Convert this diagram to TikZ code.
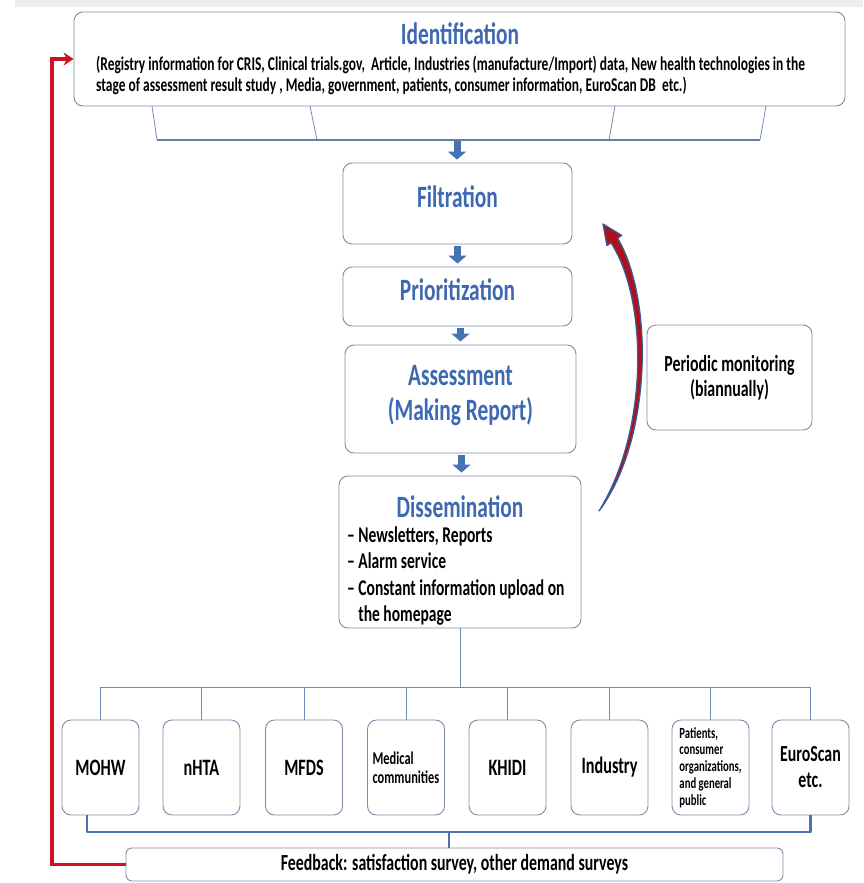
\documentclass[tikz,border=0pt]{standalone}
\usepackage{fontspec}
\setmainfont{Carlito}[FakeStretch=0.69]
\usetikzlibrary{arrows.meta,calc}
\definecolor{boxline}{RGB}{125,140,165}
\definecolor{ttl}{RGB}{62,104,178}
\definecolor{conn}{RGB}{110,140,180}
\definecolor{barblue}{RGB}{75,115,175}
\definecolor{fbred}{RGB}{205,20,30}
\definecolor{arrblue}{RGB}{70,115,180}
\definecolor{curvblue}{RGB}{60,90,150}
\tikzset{
  box/.style={draw=boxline, line width=0.9pt, rounded corners=9pt, fill=white, inner sep=0pt},
  smallbox/.style={box, minimum width=77pt, minimum height=95pt, align=center},
  ttlfont/.style={text=ttl, font=\bfseries\fontsize{31}{33}\selectfont, inner sep=0pt},
  blockarrow/.style={arrblue, line width=7pt, -{Triangle[length=8pt,width=18pt]}, shorten <=2pt, shorten >=3pt},
  thinconn/.style={conn, line width=0.8pt},
  barconn/.style={barblue, line width=2.6pt, line join=round},
  fbline/.style={fbred, line width=3.2pt},
}
\begin{document}
\begin{tikzpicture}[x=1pt,y=-1pt]
\useasboundingbox (0,0) rectangle (863,883);
\fill[gray!13] (15,0) rectangle (863,7);

% identification
\node[box, minimum width=771pt, minimum height=94pt] (ident) at (459.5,59) {};
\node[ttlfont] (identt) at (460,34) {Identification};
\node[anchor=west, align=left, inner sep=0pt, font=\bfseries\fontsize{19.5}{21.5}\selectfont] (identb) at (96,75.5)
 {(Registry information for CRIS, Clinical trials.gov,~ Article, Industries (manufacture/Import) data, New health technologies in the\\
  stage of assessment result study , Media, government, patients, consumer information, EuroScan DB~ etc.)};

% bracket under identification
\coordinate (b1) at (152,106); \coordinate (b1e) at (157,140);
\coordinate (b2) at (310,106); \coordinate (b2e) at (317,140);
\coordinate (b3) at (615,106); \coordinate (b3e) at (609,140);
\coordinate (b4) at (766,106); \coordinate (b4e) at (760,140);
\coordinate (bm) at (457,140);
\draw[thinconn] (b1) -- (b1e) (b2) -- (b2e) (b3) -- (b3e) (b4) -- (b4e);
\draw[conn!90!black, line width=1.8pt] (b1e) -- (b4e);

% main chain
\node[box, minimum width=229pt, minimum height=81pt] (filt) at (457.5,203.5) {};
\node[ttlfont] (filtt) at (457.5,197) {Filtration};
\node[box, minimum width=229pt, minimum height=59pt] (prio) at (457.5,296.5) {};
\node[ttlfont] (priot) at (457.5,290) {Prioritization};
\node[box, minimum width=231pt, minimum height=108pt] (assess) at (460.5,399) {};
\node[ttlfont, align=center, font=\bfseries\fontsize{31}{35}\selectfont] (assesst) at (460.5,396) {Assessment\\(Making Report)};
\node[box, minimum width=242pt, minimum height=152pt] (dissem) at (460,552) {};
\node[ttlfont] (dissemt) at (460,507) {Dissemination};
\node[anchor=west, align=left, inner sep=0pt, font=\bfseries\fontsize{22.5}{26.3}\selectfont] (dissemb) at (347,576)
 {– Newsletters, Reports\\ – Alarm service\\ – Constant information upload on\\ \phantom{– }the homepage};

\node[box, minimum width=165pt, minimum height=105pt, align=center, font=\bfseries\fontsize{23}{25}\selectfont] (period) at (729.5,377.5) {Periodic monitoring\\(biannually)};

\draw[blockarrow, shorten <=1pt] (bm) -- (bm |- filt.north);
\draw[blockarrow] (filt.south) -- (filt.south |- prio.north);
\draw[blockarrow] ($(prio.south)+(3,0)$) -- ($(prio.south |- assess.north)+(3,0)$);
\draw[blockarrow] ($(assess.south)+(1,0)$) -- ($(assess.south |- dissem.north)+(1,0)$);

% curved arrow
\fill[fbred!85!black, draw=curvblue, line width=1.3pt, line join=round]
  (599,511) .. controls (652,440) and (654,300) .. (617.6,238.2)
  -- (621.7,235.4) -- (603,224) -- (606.9,245.6) -- (611,242.8)
  .. controls (648,300) and (649,430) .. (599,511) -- cycle;

% stakeholders
\node[smallbox, font=\bfseries\fontsize{23.5}{25}\selectfont] (mohw) at (100.5,767.5) {MOHW};
\node[smallbox, font=\bfseries\fontsize{23.5}{25}\selectfont] (nhta) at (201.5,767.5) {nHTA};
\node[smallbox, font=\bfseries\fontsize{23.5}{25}\selectfont] (mfds) at (304,767.5) {MFDS};
\node[smallbox, font=\bfseries\fontsize{18}{19}\selectfont, align=left] (medi) at (406,767.5) {Medical\\communities};
\node[smallbox, font=\bfseries\fontsize{23.5}{25}\selectfont] (khidi) at (507.5,767.5) {KHIDI};
\node[smallbox, font=\bfseries\fontsize{23.5}{25}\selectfont] (indu) at (609.5,767.5) {Industry};
\node[smallbox, font=\bfseries\fontsize{15.5}{16.8}\selectfont, align=left] (pati) at (710.5,767.5) {Patients,\\consumer\\organizations,\\and general\\public};
\node[smallbox, font=\bfseries\fontsize{23}{26}\selectfont] (euro) at (810.5,767.5) {EuroScan\\etc.};

\coordinate (hub) at (dissem.south |- 0,687);
\draw[thinconn] (dissem.south) -- (hub);
\draw[thinconn] (mohw.north |- hub) -- (euro.north |- hub);
\foreach \n in {mohw,nhta,mfds,medi,khidi,indu,pati,euro}
  \draw[thinconn] (\n.north |- hub) -- (\n.north);

% feedback
\node[box, rounded corners=6pt, minimum width=657pt, minimum height=33pt, font=\bfseries\fontsize{23}{25}\selectfont] (fb) at (454.5,864.5) {Feedback: satisfaction survey, other demand surveys};
\coordinate (bl) at (87,832);
\coordinate (bc) at (449,832);
\draw[barconn] (87,815) -- (bl) -- (euro.south |- bl) -- (euro.south);
\draw[barconn] (bc) -- (bc |- fb.north);

\coordinate (rc1) at (52,864.5);
\coordinate (rc2) at (52,59);
\draw[fbline, line join=miter, -{Stealth[length=10pt,width=13pt]}] (fb.west) -- (rc1) -- (rc2) -- (ident.west);
\end{tikzpicture}
\end{document}
